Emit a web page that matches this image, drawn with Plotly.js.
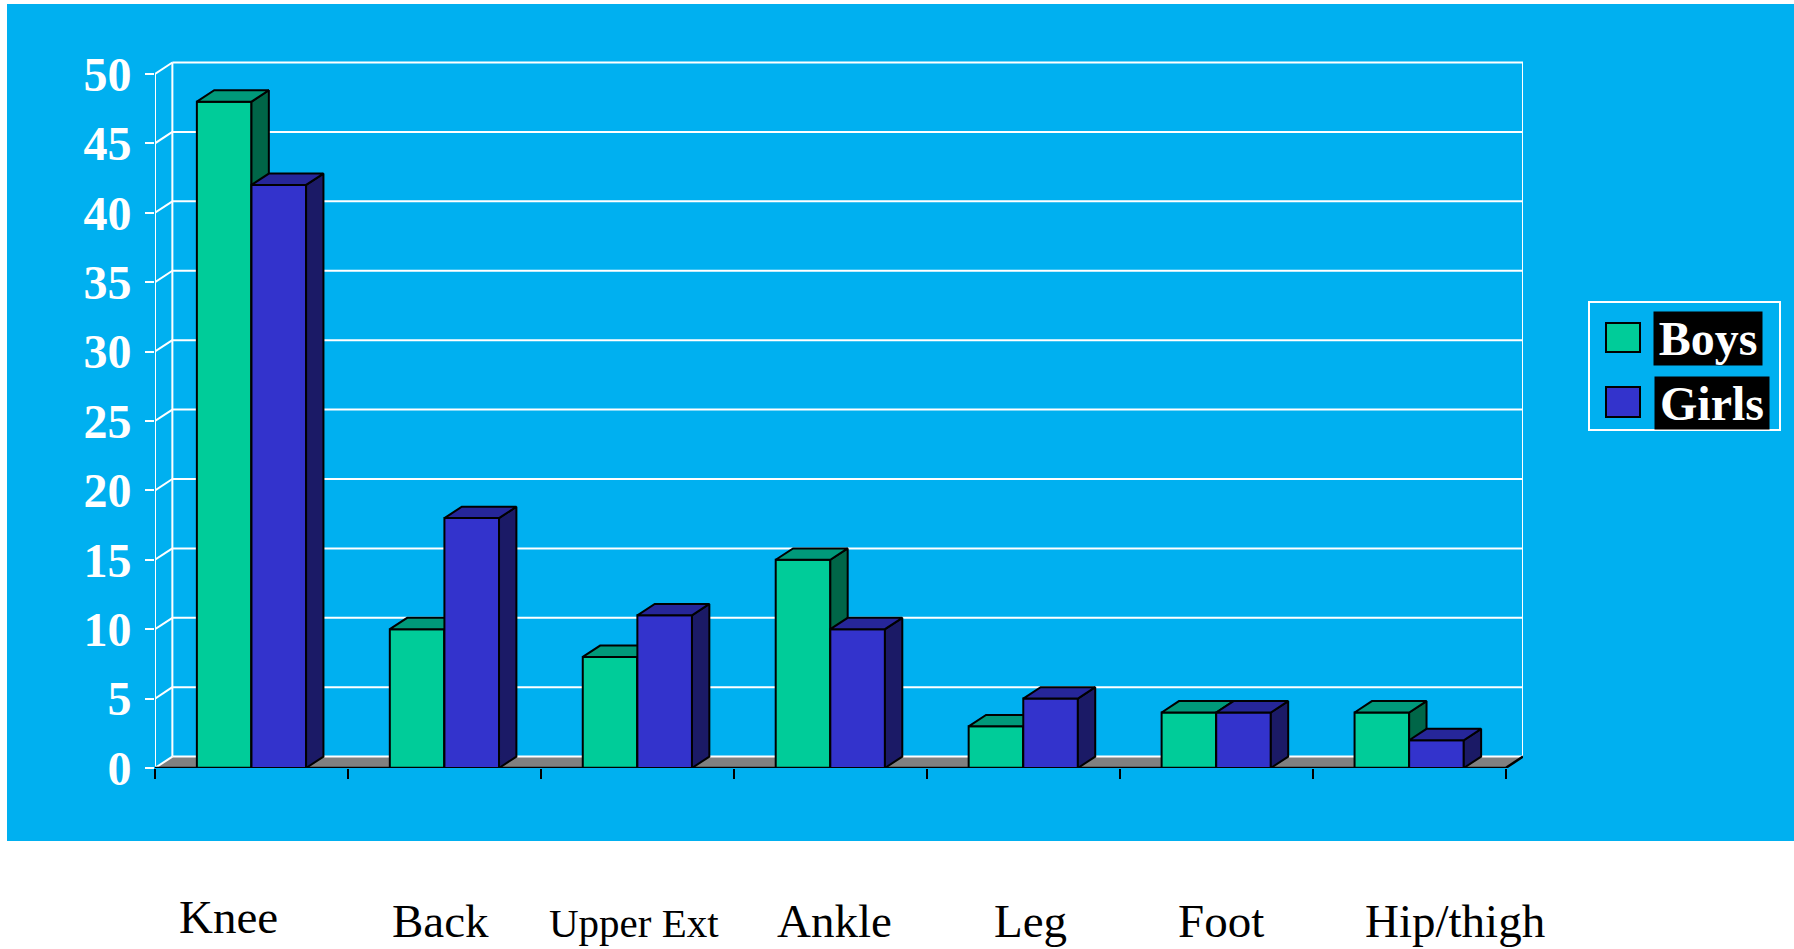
<!DOCTYPE html>
<html>
<head>
<meta charset="utf-8">
<script src="https://cdn.plot.ly/plotly-3.0.1.min.js"></script>
<style>
  html, body { margin: 0; padding: 0; background: #ffffff; }
  #chart { width: 1794px; height: 949px; }
</style>
</head>
<body>
<div id="chart"></div>
<script>
// Injury location by sex
const categories = ['Knee', 'Back', 'Upper Ext', 'Ankle', 'Leg', 'Foot', 'Hip/thigh'];
const boys  = [48, 10, 8, 15, 3, 4, 4];
const girls = [42, 18, 11, 10, 5, 4, 2];
const seriesNames = ['Boys', 'Girls'];
const yTicks = [0, 5, 10, 15, 20, 25, 30, 35, 40, 45, 50];

// ---- styling / geometry (not data) ----
const FONT = 'Liberation Serif, Times New Roman, serif';
const BG_BLUE = '#00B0F0';
const COLORS = {
  Boys:  { front: '#00CC99', top: '#00997A', side: '#006648' },
  Girls: { front: '#3333CC', top: '#262699', side: '#1B1A66' }
};
const OUTLINE = 2;
const BAR_W = 0.283;   // width of one bar, in category units
const DX = 0.09;       // depth offset along x (category units)
const DY = 0.82;       // depth offset along y (value units)
const X0 = -0.5, X1 = categories.length - 0.5;
const Y_MAX = 51;

// plot box in pixels, used to place paper-referenced decorations
const M = { l: 155, r: 271, t: 60, b: 181 };
const W = 1794, H = 949;
const PW = W - M.l - M.r, PH = H - M.t - M.b;
const px = x => (x - M.l) / PW;
const py = y => (H - M.b - y) / PH;

const xs = categories.map((_, i) => i);

// front faces: ordinary bars
function frontBar(vals, name, offset, xa, ya) {
  return {
    type: 'bar', name: name, x: xs, y: vals,
    width: BAR_W, offset: offset,
    xaxis: xa, yaxis: ya,
    marker: { color: COLORS[name].front, line: { color: '#000', width: OUTLINE } },
    showlegend: false, hoverinfo: 'skip'
  };
}

// top and right-side faces as filled polygons derived from the same values
function depthFaces(vals, name, leftOf, xa, ya) {
  const top = { x: [], y: [] }, side = { x: [], y: [] };
  vals.forEach((v, i) => {
    const xl = i + leftOf, xr = xl + BAR_W;
    top.x.push(xl, xr, xr + DX, xl + DX, xl, null);
    top.y.push(v, v, v + DY, v + DY, v, null);
    side.x.push(xr, xr, xr + DX, xr + DX, xr, null);
    side.y.push(0, v, v + DY, DY, 0, null);
  });
  const mk = (pts, col) => ({
    type: 'scatter', mode: 'lines', x: pts.x, y: pts.y,
    xaxis: xa, yaxis: ya, fill: 'toself', fillcolor: col,
    line: { color: '#000', width: OUTLINE }, connectgaps: false,
    showlegend: false, hoverinfo: 'skip'
  });
  return [mk(side, COLORS[name].side), mk(top, COLORS[name].top)];
}

// edge lines of the chart box, drawn unclipped so they keep full width
function edge(xv, yv, color, width) {
  return {
    type: 'scatter', mode: 'lines', x: xv, y: yv, cliponaxis: false,
    line: { color: color, width: width }, showlegend: false, hoverinfo: 'skip'
  };
}

const traces = [
  edge([X0, X0], [0, yTicks[yTicks.length - 1]], '#ffffff', 2),
  edge([X1 + DX, X1 + DX], [DY, yTicks[yTicks.length - 1] + DY], '#ffffff', 2),
  edge([X0, X1, X1 + DX], [0, 0, DY], '#000000', 2.5),
  frontBar(boys, seriesNames[0], -BAR_W, 'x', 'y'),
  ...depthFaces(boys, seriesNames[0], -BAR_W, 'x', 'y'),
  // the second series sits on an overlaid subplot so it paints over the first
  frontBar(girls, seriesNames[1], 0, 'x2', 'y2'),
  ...depthFaces(girls, seriesNames[1], 0, 'x2', 'y2')
];

// walls, floor and gridlines
const shapes = [];
shapes.push({
  type: 'rect', xref: 'paper', yref: 'paper', layer: 'below',
  x0: px(7), x1: px(W + 10), y0: py(841), y1: py(4),
  fillcolor: BG_BLUE, line: { width: 0 }
});
shapes.push({
  type: 'path', xref: 'x', yref: 'y', layer: 'below',
  path: `M${X0},0 L${X1},0 L${X1 + DX},${DY} L${X0 + DX},${DY} Z`,
  fillcolor: '#808080', line: { width: 0 }
});
yTicks.forEach(v => {
  shapes.push({
    type: 'line', xref: 'x', yref: 'y', layer: 'below',
    x0: X0 + DX, x1: X1 + DX, y0: v + DY, y1: v + DY,
    line: { color: '#ffffff', width: 2 }
  });
  shapes.push({
    type: 'line', xref: 'x', yref: 'y', layer: 'below',
    x0: X0, x1: X0 + DX, y0: v, y1: v + DY,
    line: { color: '#ffffff', width: 2 }
  });
});
shapes.push({
  type: 'line', xref: 'x', yref: 'y', layer: 'below',
  x0: X0 + DX, x1: X0 + DX, y0: DY, y1: yTicks[yTicks.length - 1] + DY,
  line: { color: '#ffffff', width: 2 }
});

// legend box with swatches
const legend = [
  { name: seriesNames[0], sw: [1606, 323, 1640, 352], text: [1708, 339, 108, 53] },
  { name: seriesNames[1], sw: [1606, 387, 1640, 417], text: [1712, 403, 114, 52] }
];
shapes.push({
  type: 'rect', xref: 'paper', yref: 'paper',
  x0: px(1589), x1: px(1780), y0: py(430), y1: py(302),
  line: { color: '#ffffff', width: 2 }, fillcolor: 'rgba(0,0,0,0)'
});
const annotations = [];
legend.forEach(it => {
  shapes.push({
    type: 'rect', xref: 'paper', yref: 'paper',
    x0: px(it.sw[0]), x1: px(it.sw[2]), y0: py(it.sw[3]), y1: py(it.sw[1]),
    fillcolor: COLORS[it.name].front, line: { color: '#000', width: OUTLINE }
  });
  annotations.push({
    xref: 'paper', yref: 'paper', x: px(it.text[0]), y: py(it.text[1]),
    xanchor: 'center', yanchor: 'middle', showarrow: false,
    text: it.name, bgcolor: '#000000', borderpad: 0,
    width: it.text[2], height: it.text[3], valign: 'middle',
    font: { family: FONT, size: 48, color: '#ffffff', weight: 'bold' }
  });
});

// category labels beneath the panel
const labelNudge = [[-23, -149], [-4, -153], [-3, -155], [4, -153], [7, -153], [5, -153], [46, -153]];
const labelSize  = [47, 47, 41, 47, 47, 47, 47];
categories.forEach((c, i) => {
  annotations.push({
    xref: 'x', yref: 'y', x: i, y: 0, xanchor: 'center', yanchor: 'middle',
    xshift: labelNudge[i][0], yshift: labelNudge[i][1], showarrow: false,
    text: c, font: { family: FONT, size: labelSize[i], color: '#000000' }
  });
});

const boundaries = categories.map((_, i) => i - 0.5).concat([X1]);

const layout = {
  width: W, height: H,
  margin: M,
  paper_bgcolor: '#ffffff',
  plot_bgcolor: 'rgba(0,0,0,0)',
  barmode: 'overlay',
  showlegend: false,
  xaxis: {
    range: [X0, X1 + DX], tickvals: boundaries, ticks: 'outside', ticklen: 10,
    tickwidth: 2, tickcolor: '#000000', showticklabels: false,
    showgrid: false, zeroline: false, showline: false, fixedrange: true
  },
  yaxis: {
    range: [0, Y_MAX], tickvals: yTicks, ticks: 'outside', ticklen: 9,
    tickwidth: 2, tickcolor: '#ffffff', ticklabelstandoff: 4,
    tickfont: { family: FONT, size: 48, color: '#ffffff', weight: 'bold' },
    showgrid: false, zeroline: false, showline: false, fixedrange: true
  },
  xaxis2: { overlaying: 'x', matches: 'x', visible: false },
  yaxis2: { overlaying: 'y', matches: 'y', visible: false },
  shapes: shapes,
  annotations: annotations
};

Plotly.newPlot('chart', traces, layout, { displayModeBar: false, staticPlot: true });
</script>
</body>
</html>
